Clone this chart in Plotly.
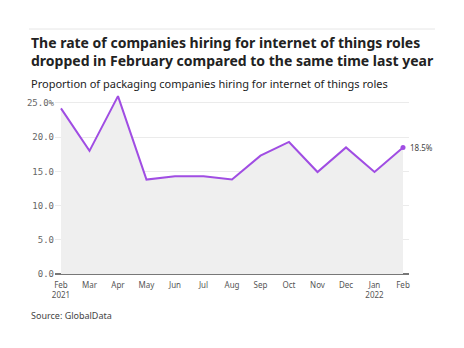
import plotly.graph_objects as go

months = ["Feb<br>2021", "Mar", "Apr", "May", "Jun", "Jul", "Aug", "Sep", "Oct", "Nov", "Dec", "Jan<br>2022", "Feb"]
values = [24.2, 18.0, 26.0, 13.8, 14.3, 14.3, 13.8, 17.3, 19.3, 14.9, 18.5, 14.9, 18.5]
y_ticks = [0, 5, 10, 15, 20, 25]
y_ticktext = ["0.0", "5.0", "10.0", "15.0", "20.0", "25.0%"]

x = list(range(len(months)))
purple = "#a04de3"
sans = "Noto Sans"
mono = "DejaVu Sans Mono"

fig = go.Figure()
fig.add_trace(go.Scatter(
    x=x, y=values, mode="lines", fill="tozeroy", fillcolor="#efefef",
    line=dict(color=purple, width=2), hoverinfo="skip", showlegend=False))
fig.add_trace(go.Scatter(
    x=[x[-1]], y=[values[-1]], mode="markers",
    marker=dict(color=purple, size=5), showlegend=False, hoverinfo="skip"))

fig.add_annotation(x=x[-1], y=values[-1], text=f"{values[-1]}%", showarrow=False,
                   xanchor="left", xshift=5, font=dict(family=sans, size=8, color="#444"))

fig.update_layout(
    width=464, height=348, margin=dict(l=55, r=55, t=92, b=74),
    paper_bgcolor="white", plot_bgcolor="white",
    xaxis=dict(range=[-0.21, 12.21], tickvals=x, ticktext=months, showgrid=False,
               tickfont=dict(family=sans, size=8, color="#555"), ticks="", zeroline=False,
               showline=False, ticklabelstandoff=5),
    yaxis=dict(range=[0, 26.6], tickvals=y_ticks, ticktext=y_ticktext, showgrid=True,
               gridcolor="#ebebeb", gridwidth=1, zeroline=True, zerolinecolor="#777",
               zerolinewidth=1.5, tickfont=dict(family=mono, size=9, color="#666"), ticks=""),
)

fig.add_shape(type="line", xref="paper", yref="paper", x0=-0.0734, x1=1.0734, y0=1.346, y1=1.346,
              line=dict(color="#e6e6e6", width=1))
fig.add_annotation(xref="paper", yref="paper", x=-0.0734, y=1.337, xanchor="left", yanchor="top",
                   align="left", showarrow=False,
                   text="<b>The rate of companies hiring for internet of things roles<br>dropped in February compared to the same time last year</b>",
                   font=dict(family=sans, size=14, color="#222"))
fig.add_annotation(xref="paper", yref="paper", x=-0.0734, y=1.1, xanchor="left", yanchor="top",
                   align="left", showarrow=False,
                   text="Proportion of packaging companies hiring for internet of things roles",
                   font=dict(family=sans, size=11, color="#222"))
fig.add_annotation(xref="paper", yref="paper", x=-0.0734, y=-0.181, xanchor="left", yanchor="top",
                   align="left", showarrow=False, text="Source: GlobalData",
                   font=dict(family=sans, size=9, color="#444"))

fig.write_html("out.html")
